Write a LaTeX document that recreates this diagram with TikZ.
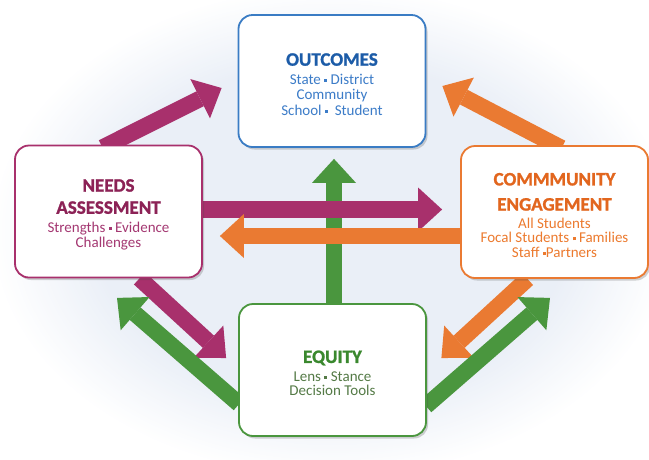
\documentclass[tikz,border=0pt]{standalone}
\usepackage{fontspec}
\setmainfont{Carlito}
\newfontfamily\tfnt{Carlito}[BoldFeatures={FakeBold=1.2}]
\usetikzlibrary{calc,arrows.meta,shadows}
\definecolor{mag}{RGB}{168,48,108}
\definecolor{org}{RGB}{234,122,50}
\definecolor{grn}{RGB}{74,150,62}
\definecolor{blu}{RGB}{58,124,196}
\definecolor{otitle}{RGB}{28,92,168}
\definecolor{otext}{RGB}{60,124,200}
\definecolor{ntitle}{RGB}{140,34,86}
\definecolor{ntext}{RGB}{164,56,114}
\definecolor{ctitle}{RGB}{226,102,30}
\definecolor{ctext}{RGB}{236,122,46}
\definecolor{etitle}{RGB}{58,136,46}
\definecolor{etext}{RGB}{84,122,70}
\definecolor{glowc}{RGB}{234,239,247}
\pgfdeclarelayer{glowlayer}
\pgfdeclarelayer{arrowlayer}
\pgfsetlayers{glowlayer,arrowlayer,main}
\newcommand\ttl{\tfnt\fontsize{19}{21}\selectfont\bfseries\rule{0pt}{19pt}}
\newcommand\sqb{\rule[2.6pt]{3pt}{3pt}}
\begin{document}
\begin{tikzpicture}[x=1pt,y=-1pt,
  box/.style={rounded corners=14pt, line width=1.8pt, fill=white,
    minimum width=187pt, minimum height=132pt, align=center,
    font=\fontsize{15}{15.5}\selectfont,
    drop shadow={shadow xshift=2pt,shadow yshift=-2.5pt,opacity=0.25,fill=black!70}},
  blk/.style={line width=16.5pt, -{Triangle[width=44pt,length=24pt,line width=0pt]}}]
\useasboundingbox (0,0) rectangle (649,459);
\begin{pgfonlayer}{glowlayer}
  \fill[white] (0,0) rectangle (649,459);
  \foreach \i in {0,...,40}{
    \pgfmathsetmacro\p{\i*2.5}
    \fill[glowc!\p!white] (332,232) ellipse [x radius={340-\i*2.6}, y radius={245-\i*1.9}];
  }
\end{pgfonlayer}

\node[box, draw=blu, text=otext] (outcomes) at (332,81)
  {{\ttl\color{otitle}OUTCOMES}\\[3pt]State \sqb{} District\\Community\\School \sqb{}\ \ Student};
\node[box, draw=mag, text=ntext] (needs) at (108.5,211.5)
  {{\ttl\color{ntitle}NEEDS}\\[2pt]{\ttl\color{ntitle}ASSESSMENT}\\[3pt]Strengths \sqb{} Evidence\\Challenges};
\node[box, draw=org, text=ctext] (community) at (554.5,212)
  {{\ttl\color{ctitle}COMMMUNITY}\\[5pt]{\ttl\color{ctitle}ENGAGEMENT}\\[2pt]All Students\\[-0.8pt]Focal Students \sqb{} Families\\[-0.8pt]Staff \sqb Partners};
\node[box, draw=grn, text=etext] (equity) at (332.5,370)
  {{\ttl\color{etitle}EQUITY}\\[3pt]Lens \sqb{} Stance\\[-1pt]Decision Tools};

\begin{pgfonlayer}{arrowlayer}
  % needs -> outcomes
  \draw[blk, mag] ($(needs.north)+(-6,3)$) -- ($(outcomes.west)+(-16,7)$);
  % community -> outcomes
  \draw[blk, org] ($(community.north)+(7,3)$) -- ($(outcomes.east)+(16,5)$);
  % equity -> outcomes
  \draw[blk, grn] ($(equity.north)+(1.5,0)$) -- ($(outcomes.south)+(2,11)$);
  % needs -> community
  \draw[blk, mag] ($(needs.east)+(0,-2)$) -- ($(community.west)+(-18,-2.5)$);
  % community -> needs
  \draw[blk, org] ($(community.west)+(0,24)$) -- ($(needs.east)+(17,24.5)$);
  % needs -> equity
  \draw[blk, mag] ($(needs.south)+(31,0)$) -- ($(equity.west)+(-12,-12)$);
  % equity -> needs
  \draw[blk, grn] ($(equity.west)+(1,34)$) -- ($(needs.south)+(8.5,19.5)$);
  % community -> equity
  \draw[blk, org] ($(community.south)+(-27,0)$) -- ($(equity.east)+(14.5,-12)$);
  % equity -> community
  \draw[blk, grn] ($(equity.east)+(-1,36)$) -- ($(community.south)+(-4.5,19)$);
\end{pgfonlayer}
\end{tikzpicture}
\end{document}
